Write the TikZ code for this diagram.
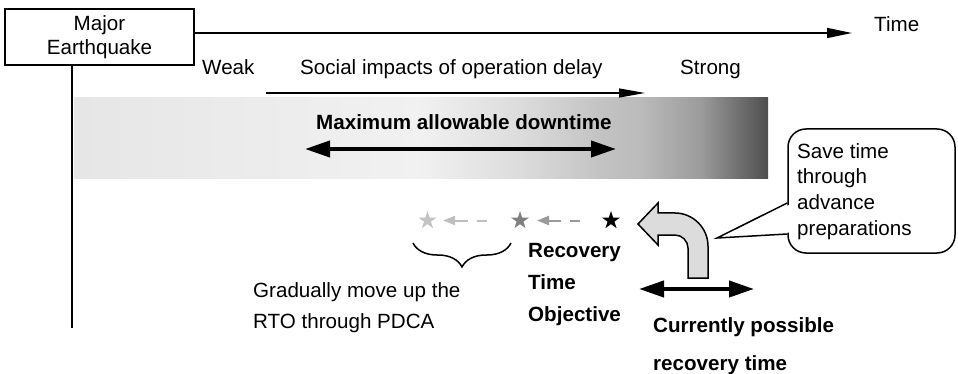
\documentclass[tikz,border=0pt]{standalone}
\usepackage{fontspec}
\setmainfont{Liberation Sans}
\usetikzlibrary{arrows.meta,shapes.geometric,decorations.pathreplacing}
\definecolor{sh0}{HTML}{E6E6E6}
\definecolor{sh1}{HTML}{EBEBEB}
\definecolor{sh2}{HTML}{F1F1F1}
\definecolor{sh3}{HTML}{DCDCDC}
\definecolor{sh4}{HTML}{C3C3C3}
\definecolor{sh5}{HTML}{BBBBBB}
\definecolor{sh6}{HTML}{9C9C9C}
\definecolor{sh7}{HTML}{6E6E6E}
\definecolor{sh8}{HTML}{4E4E4E}
\definecolor{lightstar}{HTML}{C4C4C4}
\definecolor{midstar}{HTML}{808080}
\definecolor{lightarr}{HTML}{BFBFBF}
\definecolor{midarr}{HTML}{9A9A9A}
\definecolor{uturn}{HTML}{DCDCDC}
\pgfdeclarehorizontalshading{madshade}{100bp}{color(0bp)=(sh0); color(25bp)=(sh0); color(36.2bp)=(sh1); color(49.9bp)=(sh2); color(57.1bp)=(sh3); color(62.9bp)=(sh4); color(65.8bp)=(sh5); color(70.1bp)=(sh6); color(73bp)=(sh7); color(75bp)=(sh8); color(100bp)=(sh8)}
\begin{document}
\begin{tikzpicture}[x=1pt,y=-1pt,
  txt/.style={inner sep=0, font=\fontsize{20.6}{24}\selectfont},
  btxt/.style={inner sep=0, font=\fontsize{20.6}{24}\selectfont\bfseries},
  starnode/.style={star, star points=5, star point ratio=2.618, minimum size=19pt, inner sep=0, draw=none},
  dasharr/.style={line width=2, dash pattern=on 10pt off 9pt on 80pt, -{Triangle[length=12pt,width=9pt]}},
  dblarr/.style={line width=4, {Triangle[length=25pt,width=16pt]}-{Triangle[length=25pt,width=16pt]}},
  thin/.style={line width=1.5}]
\useasboundingbox (0,0) rectangle (958,374);
\path[shading=madshade] (74,98) rectangle (768,179);

\node[draw, thin, minimum width=189, minimum height=56, inner sep=0, align=center, font=\fontsize{20.6}{23.5}\selectfont] (eq) at (99.5,37) {Major\\Earthquake};
\coordinate (tend) at (852,33);
\draw[thin, -{Triangle[length=25pt,width=10pt]}] (eq.east |- tend) -- (tend);
\coordinate (vend) at (72,328);
\draw[thin] (vend |- eq.south) -- (vend);

\node[txt, anchor=base west] (time) at (874,32) {Time};
\node[txt, anchor=base west] (weak) at (202,75) {Weak};
\node[txt, anchor=base west] (social) at (300,75) {Social impacts of operation delay};
\node[txt, anchor=base west] (strong) at (680,75) {Strong};
\coordinate (sa1) at (266,93);
\coordinate (sa2) at (645,93);
\draw[line width=1.2, -{Triangle[length=26pt,width=9pt]}] (sa1) -- (sa2);

\node[btxt, anchor=base west] (mad) at (316,130) {Maximum allowable downtime};
\coordinate (m1) at (305,149);
\coordinate (m2) at (616,149);
\draw[dblarr] (m1) -- (m2);

\node[starnode, fill=lightstar] (s1) at (427.5,220.5) {};
\node[starnode, fill=midstar] (s2) at (520,220.5) {};
\node[starnode, fill=black] (s3) at (611,220.5) {};
\draw[dasharr, draw=lightarr] ([xshift=-33]s2.center) -- ([xshift=15.5]s1.center);
\draw[dasharr, draw=midarr] ([xshift=-31]s3.center) -- ([xshift=17]s2.center);

\draw[thin, decorate, decoration={brace, amplitude=24pt}] (511,243) -- (413,243);

\node[txt, anchor=north west, align=left, font=\fontsize{20.6}{31}\selectfont] (grad) at (253,282) {Gradually move up the\\RTO through PDCA};
\node[btxt, anchor=north west, align=left, font=\fontsize{20.6}{32}\selectfont\bfseries] (rto) at (528,243) {Recovery\\Time\\Objective};
\node[btxt, anchor=north west, align=left, font=\fontsize{20.6}{38}\selectfont\bfseries] (cur) at (653,317) {Currently possible\\recovery time};

\coordinate (c1) at (639,289);
\coordinate (c2) at (754,289);
\draw[dblarr] (c1) -- (c2);

\draw[thin, fill=uturn, line join=miter] (688,278) -- (708,278) -- (708,246) .. controls (708,228) and (693,213) .. (675,213) -- (658,213) -- (658,203) -- (638,224) -- (658,245) -- (658,235) -- (675,235) .. controls (682,235) and (688,241) .. (688,248) -- cycle;

\node[draw, thin, rounded corners=18, minimum width=167, minimum height=124, inner sep=0] (bub) at (871.5,191) {};
\coordinate (ptip) at (717,238);
\fill[white] (790,204.5) -- (ptip) -- (790,232.5) -- cycle;
\draw[thin] (bub.west |- 0,203) -- (ptip) -- (bub.west |- 0,234);
\node[txt, anchor=north west, align=left, font=\fontsize{20.6}{25.7}\selectfont] (bubtxt) at (797,143) {Save time\\through\\advance\\preparations};
\end{tikzpicture}
\end{document}
